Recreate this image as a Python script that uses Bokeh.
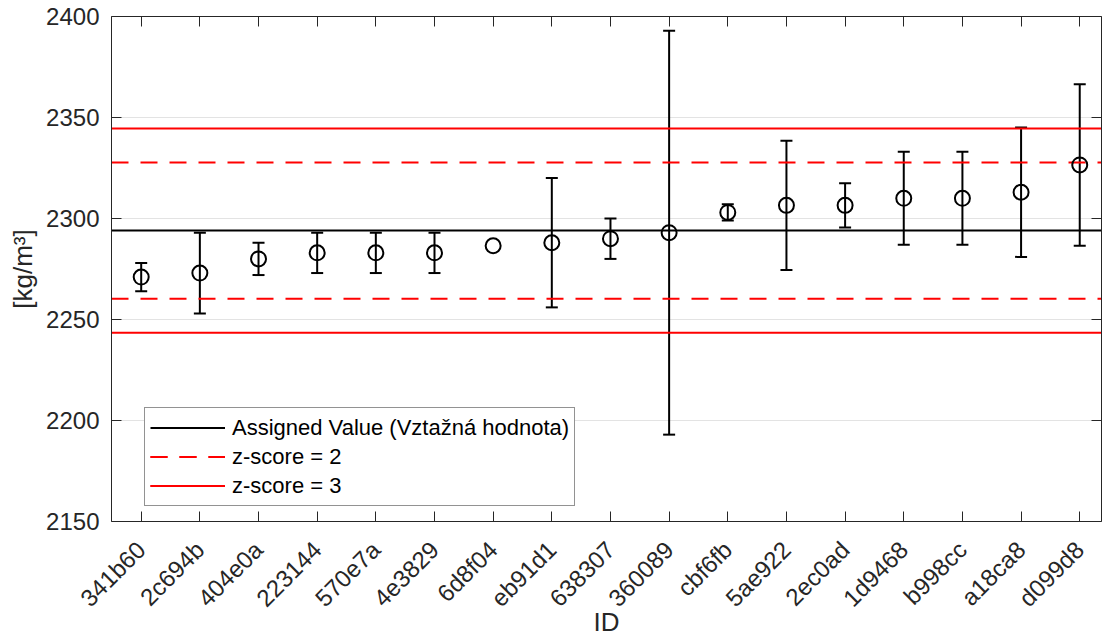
import math
from bokeh.plotting import figure
from bokeh.models import (LinearAxis, FixedTicker, Range1d, Whisker, TeeHead,
                          ColumnDataSource)
from bokeh.embed import file_html
from bokeh.resources import INLINE

# ---- data ----
ids = ["341b60", "2c694b", "404e0a", "223144", "570e7a", "4e3829", "6d8f04",
       "eb91d1", "638307", "360089", "cbf6fb", "5ae922", "2ec0ad", "1d9468",
       "b998cc", "a18ca8", "d099d8"]
values = [2271, 2273, 2280, 2283, 2283, 2283, 2286.5, 2288, 2290, 2293,
          2303, 2306.5, 2306.5, 2310, 2310, 2313, 2326.5]
uncert = [7, 20, 8, 10, 10, 10, float("nan"), 32, 10, 100, 4, 32, 11, 23,
          23, 32, 40]
assigned = 2294.0
sigma = 16.85
y_ticks = [2150, 2200, 2250, 2300, 2350, 2400]
y_min, y_max = 2150, 2400

FONT = "Liberation Sans"
AX = "#262626"

xpos = list(range(1, len(ids) + 1))
x0, x1 = 0.4937, 17.371

p = figure(width=1103, height=640, x_range=Range1d(x0, x1),
           y_range=Range1d(y_min, y_max), output_backend="svg",
           toolbar_location=None, x_axis_location=None, y_axis_location=None,
           min_border_left=111, min_border_right=2, min_border_top=16,
           min_border_bottom=118)
p.outline_line_color = None
p.background_fill_color = "white"

def style_axis(ax, ticks, labels=None):
    ax.axis_line_color = AX
    ax.axis_line_width = 1
    ax.major_tick_line_color = AX
    ax.major_tick_in = 10
    ax.major_tick_out = 0
    ax.minor_tick_line_color = None
    ax.major_label_text_color = AX
    ax.major_label_text_font = FONT
    ax.major_label_text_font_size = "24px"
    if labels is None:
        ax.major_label_overrides = {t: "" for t in ticks}
        ax.major_label_standoff = 0
    else:
        ax.major_label_overrides = labels

xticker = FixedTicker(ticks=xpos)
yticker = FixedTicker(ticks=y_ticks)

xb = LinearAxis(ticker=xticker, axis_label="ID")
style_axis(xb, xpos, labels={t: s for t, s in zip(xpos, ids)})
xb.major_label_orientation = math.pi / 4
xb.major_label_standoff = 24
xb.axis_label_text_font = FONT
xb.axis_label_text_font_size = "26px"
xb.axis_label_text_font_style = "normal"
xb.axis_label_text_color = AX
xb.axis_label_standoff = -17
p.add_layout(xb, "below")

xt = LinearAxis(ticker=xticker)
style_axis(xt, xpos)
p.add_layout(xt, "above")

yl = LinearAxis(ticker=yticker, axis_label="[kg/m³]")
style_axis(yl, y_ticks, labels={})
yl.major_label_standoff = 12
yl.axis_label_text_font = FONT
yl.axis_label_text_font_size = "26px"
yl.axis_label_text_font_style = "normal"
yl.axis_label_text_color = AX
yl.axis_label_standoff = 5
p.add_layout(yl, "left")

yr = LinearAxis(ticker=yticker)
style_axis(yr, y_ticks)
p.add_layout(yr, "right")

p.xgrid.visible = False
p.ygrid.ticker = yticker
p.ygrid.grid_line_color = "#e3e3e3"
p.ygrid.grid_line_width = 1

# reference lines
xs = [x0, x1]
p.line(xs, [assigned, assigned], line_color="black", line_width=2,
       legend_label="Assigned Value (Vztažná hodnota)")
for sgn in (1, -1):
    v = assigned + sgn * 2 * sigma
    p.line(xs, [v, v], line_color="#ff0000", line_width=2,
           line_dash="17 12", legend_label="z-score = 2")
for sgn in (1, -1):
    v = assigned + sgn * 3 * sigma
    p.line(xs, [v, v], line_color="#ff0000", line_width=2,
           legend_label="z-score = 3")

# error bars
wx, wu, wl = [], [], []
for x, v, u in zip(xpos, values, uncert):
    if not math.isnan(u):
        wx.append(x); wu.append(v + u); wl.append(v - u)
wsrc = ColumnDataSource(dict(x=wx, upper=wu, lower=wl))
wh = Whisker(source=wsrc, base="x", upper="upper", lower="lower",
             line_color="black", line_width=2,
             upper_head=TeeHead(size=12, line_width=2, line_color="black"),
             lower_head=TeeHead(size=12, line_width=2, line_color="black"))
p.add_layout(wh)

p.scatter(xpos, values, marker="circle", size=15, fill_color=None,
          line_color="black", line_width=2)

lg = p.legend[0]
lg.location = (33, 15)
lg.label_text_font = FONT
lg.label_text_font_size = "22px"
lg.label_text_color = "black"
lg.glyph_width = 75
lg.glyph_height = 29
lg.label_height = 29
lg.label_standoff = 7
lg.padding = 5
lg.spacing = 0
lg.margin = 0
lg.border_line_color = AX
lg.border_line_width = 1
lg.background_fill_alpha = 1

open("out.html", "w").write(file_html(p, INLINE))
